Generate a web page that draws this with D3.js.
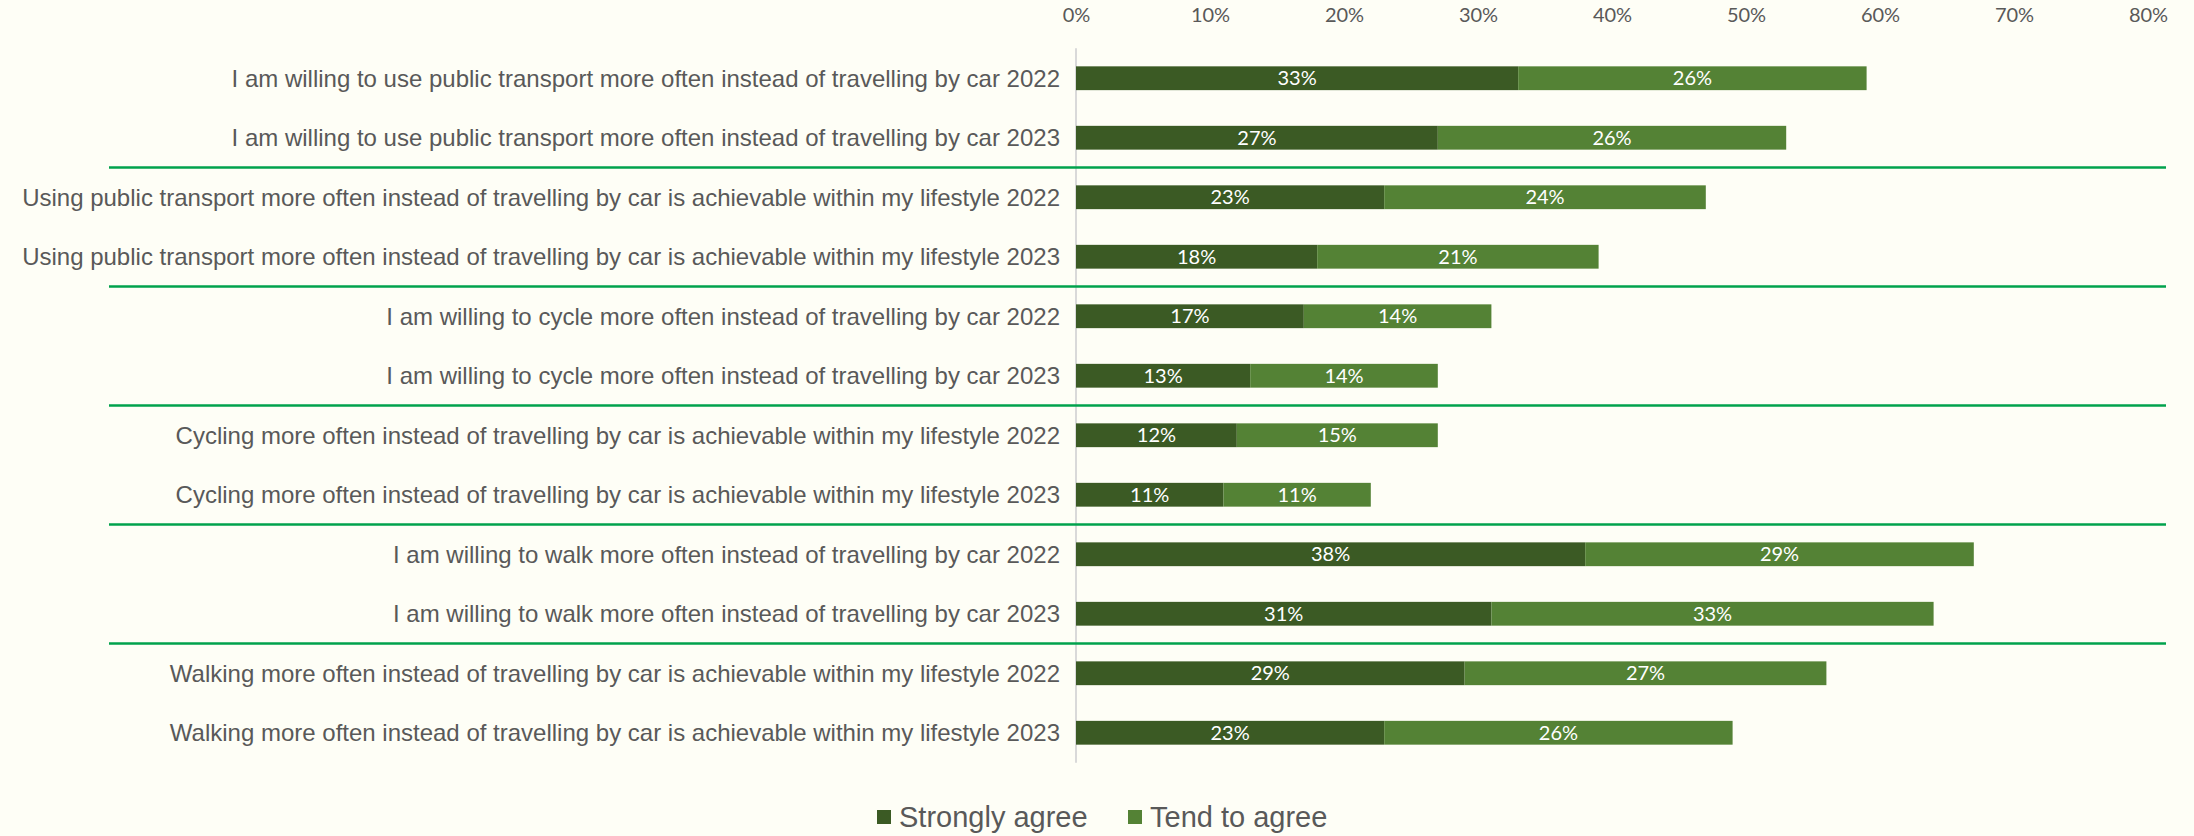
<!DOCTYPE html>
<html>
<head>
<meta charset="utf-8">
<script src="https://cdn.jsdelivr.net/npm/d3@7"></script>
<style>
  html, body { margin: 0; padding: 0; background: #fefef6; }
  svg { display: block; }
</style>
</head>
<body>
<svg id="chart" width="2194" height="836"></svg>
<script>
// Agreement with travel-behaviour statements, 2022 vs 2023
const statements = [
  "I am willing to use public transport more often instead of travelling by car 2022",
  "I am willing to use public transport more often instead of travelling by car 2023",
  "Using public transport more often instead of travelling by car is achievable within my lifestyle 2022",
  "Using public transport more often instead of travelling by car is achievable within my lifestyle 2023",
  "I am willing to cycle more often instead of travelling by car 2022",
  "I am willing to cycle more often instead of travelling by car 2023",
  "Cycling more often instead of travelling by car is achievable within my lifestyle 2022",
  "Cycling more often instead of travelling by car is achievable within my lifestyle 2023",
  "I am willing to walk more often instead of travelling by car 2022",
  "I am willing to walk more often instead of travelling by car 2023",
  "Walking more often instead of travelling by car is achievable within my lifestyle 2022",
  "Walking more often instead of travelling by car is achievable within my lifestyle 2023"
];
const strongly = [0.33, 0.27, 0.23, 0.18, 0.17, 0.13, 0.12, 0.11, 0.38, 0.31, 0.29, 0.23];
const tendTo   = [0.26, 0.26, 0.24, 0.21, 0.14, 0.14, 0.15, 0.11, 0.29, 0.33, 0.27, 0.26];
const seriesNames = ["Strongly agree", "Tend to agree"];
const tickValues = [0, 0.1, 0.2, 0.3, 0.4, 0.5, 0.6, 0.7, 0.8];
// pairs of rows (2022/2023) are separated by a rule
const groupSize = 2;

const colors = ["#3b5a24", "#548235"];
const textGray = "#595959";

const svg = d3.select("#chart");

const x = d3.scaleLinear().domain([0, 0.8]).range([1076, 2148]);
const y = d3.scaleBand()
  .domain(d3.range(statements.length))
  .range([48.25, 762.75])
  .paddingInner(0.6)
  .paddingOuter(0.304);

const rows = statements.map((s, i) => ({ i, label: s, values: [strongly[i], tendTo[i]] }));
const stack = d3.stack().keys([0, 1]).value((d, k) => d.values[k]);
const stacked = stack(rows);

// top percentage axis
const xAxis = d3.axisTop(x)
  .tickValues(tickValues)
  .tickFormat(d3.format(".0%"))
  .tickSize(0)
  .tickPadding(0);
const gx = svg.append("g").attr("transform", "translate(0,22)").call(xAxis);
gx.select(".domain").remove();
gx.selectAll("text")
  .attr("font-family", "Lato, 'Open Sans', sans-serif")
  .attr("font-size", 20)
  .attr("fill", textGray);

// category axis line at zero
svg.append("line")
  .attr("x1", x(0)).attr("x2", x(0))
  .attr("y1", y.range()[0]).attr("y2", y.range()[1])
  .attr("stroke", "#d9d9d9").attr("stroke-width", 2);

// group separators
const sepYs = d3.range(groupSize, statements.length, groupSize)
  .map(i => (y(i - 1) + y.bandwidth() + y(i)) / 2);
svg.append("g").selectAll("line").data(sepYs).join("line")
  .attr("x1", 109).attr("x2", 2166)
  .attr("y1", d => d).attr("y2", d => d)
  .attr("stroke", "#00a24c").attr("stroke-width", 2.5);

// row labels
svg.append("g").selectAll("text").data(rows).join("text")
  .attr("x", x(0) - 16)
  .attr("y", d => y(d.i) + y.bandwidth() / 2)
  .attr("dy", "0.35em")
  .attr("text-anchor", "end")
  .attr("font-family", "'Liberation Sans', Arial, sans-serif")
  .attr("font-size", 24)
  .attr("fill", textGray)
  .text(d => d.label);

// stacked bars
const layers = svg.append("g").selectAll("g").data(stacked).join("g")
  .attr("fill", (d, k) => colors[k]);
layers.selectAll("rect").data(d => d).join("rect")
  .attr("x", d => x(d[0]))
  .attr("width", d => x(d[1]) - x(d[0]))
  .attr("y", d => y(d.data.i))
  .attr("height", y.bandwidth());

// value labels
layers.selectAll("text").data(d => d).join("text")
  .attr("x", d => (x(d[0]) + x(d[1])) / 2)
  .attr("y", d => y(d.data.i) + y.bandwidth() / 2)
  .attr("dy", "0.35em")
  .attr("text-anchor", "middle")
  .attr("font-family", "Lato, 'Open Sans', sans-serif")
  .attr("font-size", 20)
  .attr("fill", "#ffffff")
  .text(d => d3.format(".0%")(d[1] - d[0]));

// legend
const legend = svg.append("g");
const legendX = [877, 1128];
seriesNames.forEach((name, k) => {
  const g = legend.append("g").attr("transform", `translate(${legendX[k]},817)`);
  g.append("rect").attr("x", 0).attr("y", -7).attr("width", 14).attr("height", 14).attr("fill", colors[k]);
  g.append("text")
    .attr("x", 22).attr("y", 0).attr("dy", "0.35em")
    .attr("font-family", "'Liberation Sans', Arial, sans-serif")
    .attr("font-size", 29)
    .attr("fill", textGray)
    .text(name);
});
</script>
</body>
</html>
